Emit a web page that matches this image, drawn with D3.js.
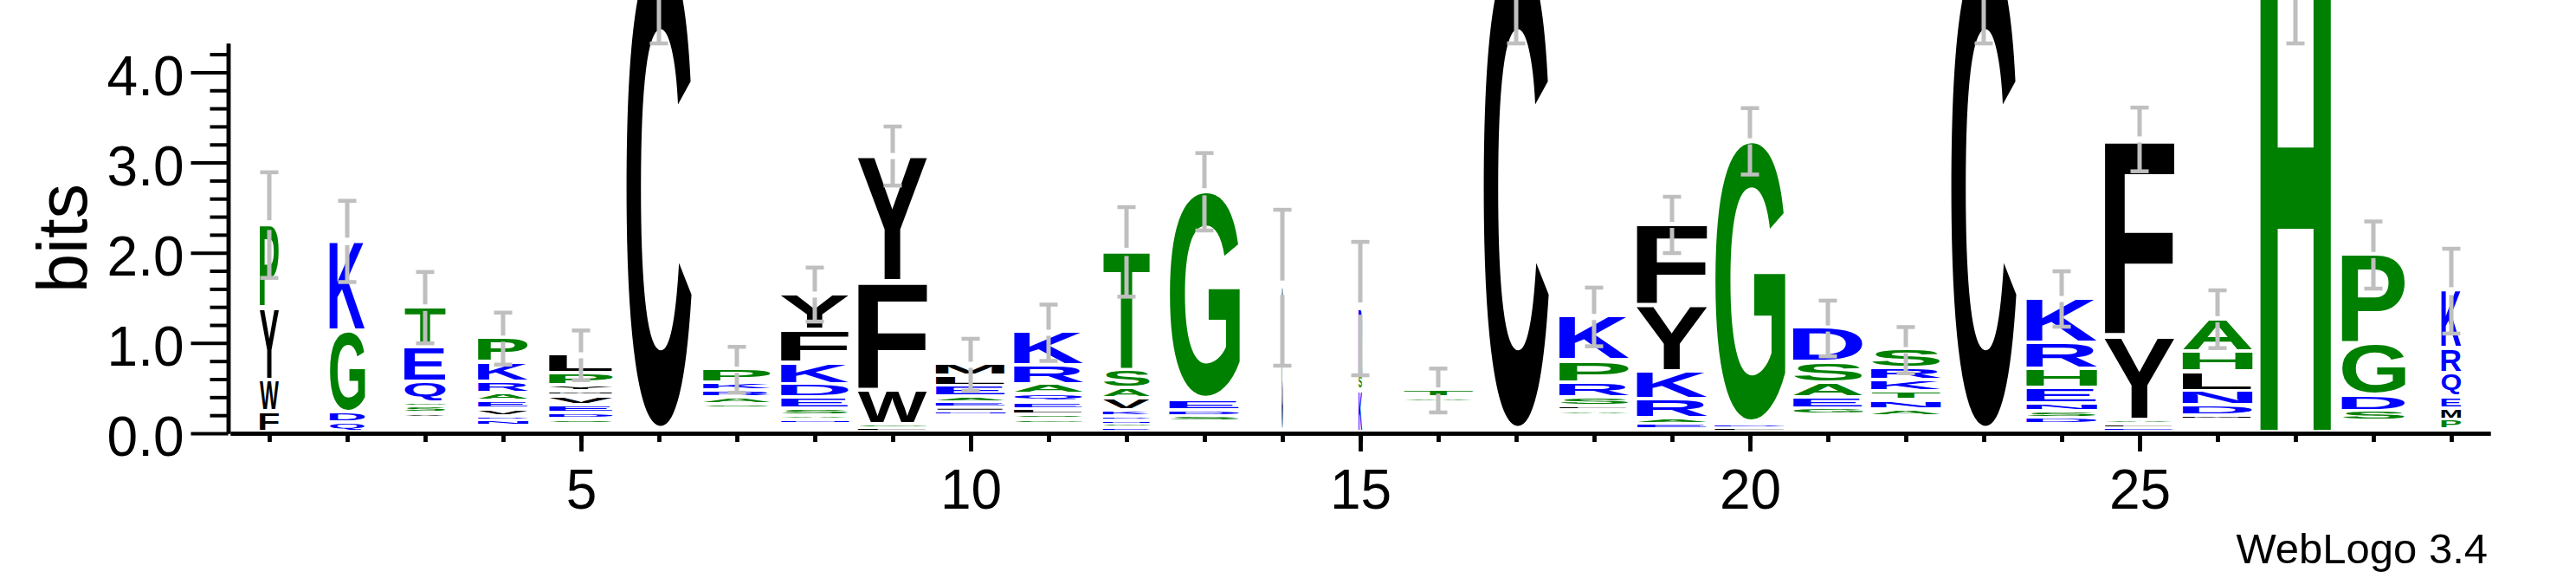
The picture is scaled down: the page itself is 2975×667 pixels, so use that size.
<!DOCTYPE html>
<html><head><meta charset="utf-8">
<script src="https://cdn.jsdelivr.net/npm/d3@7"></script>
<style>html,body{margin:0;padding:0;background:#fff;overflow:hidden}</style>
</head><body>
<svg id="chart" width="2975" height="667" xmlns="http://www.w3.org/2000/svg"></svg>
<script>
// ---------------- DATA ----------------
const positions = d3.range(1, 30);
// letters of each stack, bottom -> top
const stackLetters = [
  "FWYP","QDGK","VSGQET","NDVEARKP","SDEVMYPL","C","SARKP","NASEDKFY","LGWFY","NIEAELM",
  "GSLEQARK","EGNDKVAST","SDEG","C","KSR","AT","C","ALSRPK","EARKYF","LDG",
  "GEASD","ANTKRS","C","DSNEHRK","ELAYF","MDNLHA","H","SDGP","PMEQRK"
];
// bit height of each letter, bottom -> top
const stackBits = [
  [0.230,0.345,0.806,0.926],
  [0.109,0.106,0.906,1.005],
  [0.054,0.074,0.054,0.224,0.384,0.448],
  [0.058,0.054,0.080,0.090,0.086,0.128,0.214,0.275],
  [0.051,0.067,0.090,0.102,0.054,0.064,0.138,0.208],
  [5.35],
  [0.054,0.074,0.080,0.086,0.154],
  [0.051,0.042,0.080,0.122,0.144,0.240,0.368,0.400],
  [0.048,0.038,0.378,1.206,1.402],
  [0.051,0.042,0.058,0.061,0.122,0.112,0.134],
  [0.051,0.051,0.061,0.077,0.093,0.106,0.214,0.371],
  [0.048,0.048,0.032,0.048,0.064,0.134,0.115,0.198,1.323],
  [0.061,0.064,0.118,2.318],
  [1.613],
  [0.464,0.160,0.758],
  [0.051,0.093],
  [5.35],
  [0.054,0.048,0.096,0.166,0.243,0.496],
  [0.058,0.061,0.211,0.310,0.739,0.898],
  [0.054,0.035,3.146],
  [0.070,0.122,0.160,0.230,0.387],
  [0.080,0.102,0.096,0.128,0.134,0.211],
  [5.35],
  [0.070,0.077,0.090,0.170,0.214,0.282,0.502],
  [0.048,0.042,0.048,0.934,2.184],
  [0.051,0.112,0.157,0.218,0.224,0.368],
  [5.35],
  [0.109,0.176,0.570,0.998],
  [0.109,0.128,0.128,0.266,0.272,0.646]
];
// bits taken by residues too rare to be drawn (bottom of each stack)
const restBits = [0,0,0.154,0.064,0.090,0,0.256,0.090,0,0.179,
  0.090,0,0.115,0,0,0.330,0,0.186,0.032,0,
  0.192,0.170,0,0.083,0,0.134,0,0.122,0.026];
// error bar half-length (bits)
const errorBits = [0.585,0.45,0.395,0.288,0.275,1.03,0.254,0.299,0.327,0.288,
  0.312,0.496,0.429,0.864,0.739,0.243,1.03,0.325,0.312,0.368,
  0.309,0.256,1.03,0.307,0.353,0.32,1.03,0.372,0.47];
// fraction of sequences occupying each column (stack width)
const widthFrac = [0.27,0.50,0.59,0.71,0.91,0.94,0.96,0.96,0.98,0.99,
  0.98,0.67,1.0,0.02,0.05,1.0,0.94,0.99,1.0,1.0,
  0.99,0.99,0.94,1.0,0.99,0.99,1.0,0.90,0.28];
const yMajorTicks = [0,1,2,3,4];
const xMajorTicks = [5,10,15,20,25];
const colorGroups = {blue:"RKDENQ", green:"SGHTAP", black:"YVMCLFIW"};
const groupColor = {blue:"#0000ff", green:"#008000", black:"#000000"};

// ---------------- LAYOUT ----------------
const svg = d3.select("#chart");
svg.append("rect").attr("width",2975).attr("height",667).attr("fill","#fff");
const FONT = "'Liberation Sans', Arial, Helvetica, sans-serif";
const yScale = d3.scaleLinear().domain([0, Math.log2(20)]).range([500, 49.9]);
const xScale = d3.scaleLinear().domain([0.5, 29.5]).range([266, 2876]);
const pxPerBit = yScale(0) - yScale(1);
const fullW = (xScale(1.5) - xScale(0.5)) * 0.911;
const letterGap = 4; // px trimmed from bottom of each glyph

function colorOf(ch){
  for (const g in colorGroups) if (colorGroups[g].includes(ch)) return groupColor[g];
  return "#000";
}
// glyph ink metrics
const ctx = document.createElement("canvas").getContext("2d");
const FS = 400;
ctx.font = `bold ${FS}px ${FONT}`;
const metricCache = {};
function metric(ch){
  if (!metricCache[ch]) {
    const m = ctx.measureText(ch);
    metricCache[ch] = {L:m.actualBoundingBoxLeft, R:m.actualBoundingBoxRight,
      A:m.actualBoundingBoxAscent, D:m.actualBoundingBoxDescent};
  }
  return metricCache[ch];
}

// ---------------- STACKS ----------------
const gStacks = svg.append("g");
const stackTops = [];
positions.forEach((p, i) => {
  const w = fullW * widthFrac[i];
  const x0 = xScale(p) - w / 2;
  let base = restBits[i];
  const letters = stackLetters[i].split("");
  letters.forEach((ch, j) => {
    const h = stackBits[i][j];
    const yTop = yScale(base + h);
    const boxPx = yScale(base) - yTop;
    const inkH = Math.max(boxPx - letterGap, 1);
    const m = metric(ch);
    const sx = w / (m.L + m.R), sy = inkH / (m.A + m.D);
    gStacks.append("text")
      .attr("font-family", FONT).attr("font-weight", "bold").attr("font-size", FS)
      .attr("fill", colorOf(ch))
      .attr("transform", `translate(${x0},${yTop}) scale(${sx},${sy}) translate(${m.L},${m.A})`)
      .text(ch);
    base += h;
  });
  stackTops.push(base);
});

// ---------------- ERROR BARS ----------------
const gErr = svg.append("g").attr("stroke", "#bfbfbf").attr("fill", "none");
positions.forEach((p, i) => {
  const cx = xScale(p);
  const top = yScale(stackTops[i]);
  const e = errorBits[i] * pxPerBit;
  const gap = Math.max(3.5, 0.092 * e);
  gErr.append("line").attr("x1", cx).attr("x2", cx).attr("y1", top - e).attr("y2", top - gap).attr("stroke-width", 5);
  gErr.append("line").attr("x1", cx).attr("x2", cx).attr("y1", top + gap).attr("y2", top + e).attr("stroke-width", 5);
  [top - e, top + e].forEach(y => gErr.append("line").attr("x1", cx - 10.5).attr("x2", cx + 10.5)
    .attr("y1", y).attr("y2", y).attr("stroke-width", 4.5));
});

// ---------------- Y AXIS ----------------
const yAxisX = 263.5;
const minorY = d3.range(0.2, 4.21, 0.2).filter(v => Math.abs(v - Math.round(v)) > 0.01);
const gyMinor = svg.append("g").attr("transform", `translate(${yAxisX},0)`)
  .call(d3.axisLeft(yScale).tickValues(minorY).tickSize(21).tickSizeOuter(0).tickFormat(""));
const gy = svg.append("g").attr("transform", `translate(${yAxisX},0)`)
  .call(d3.axisLeft(yScale).tickValues(yMajorTicks).tickSize(43).tickSizeOuter(0)
    .tickPadding(8).tickFormat(d3.format(".1f")));
[gy, gyMinor].forEach(g => {
  g.selectAll("line").attr("stroke", "#000").attr("stroke-width", 4);
  g.select(".domain").attr("stroke", "#000").attr("stroke-width", 4.5);
});
gy.selectAll("text").attr("font-family", FONT).attr("font-size", 64).attr("fill", "#000").attr("dy", "0.4em");

svg.append("text").attr("font-family", FONT).attr("font-size", 81).attr("fill", "#000")
  .attr("text-anchor", "middle").attr("transform", "translate(100,275) rotate(-90)").text("bits");

// ---------------- X AXIS ----------------
const gxMinor = svg.append("g").attr("transform", "translate(0,500)")
  .call(d3.axisBottom(xScale).tickValues(positions).tickSize(10).tickSizeOuter(0).tickFormat(""));
const gx = svg.append("g").attr("transform", "translate(0,500)")
  .call(d3.axisBottom(xScale).tickValues(xMajorTicks).tickSize(21).tickSizeOuter(0).tickPadding(21));
[gx, gxMinor].forEach(g => {
  g.selectAll("line").attr("stroke", "#000").attr("stroke-width", 4.8);
  g.select(".domain").attr("stroke", "#000").attr("stroke-width", 4.5);
});
gx.selectAll("text").attr("font-family", FONT).attr("font-size", 64).attr("fill", "#000");

svg.append("text").attr("font-family", FONT).attr("font-size", 49).attr("fill", "#000")
  .attr("text-anchor", "end").attr("x", 2873).attr("y", 650).text("WebLogo 3.4");
</script>
</body></html>
